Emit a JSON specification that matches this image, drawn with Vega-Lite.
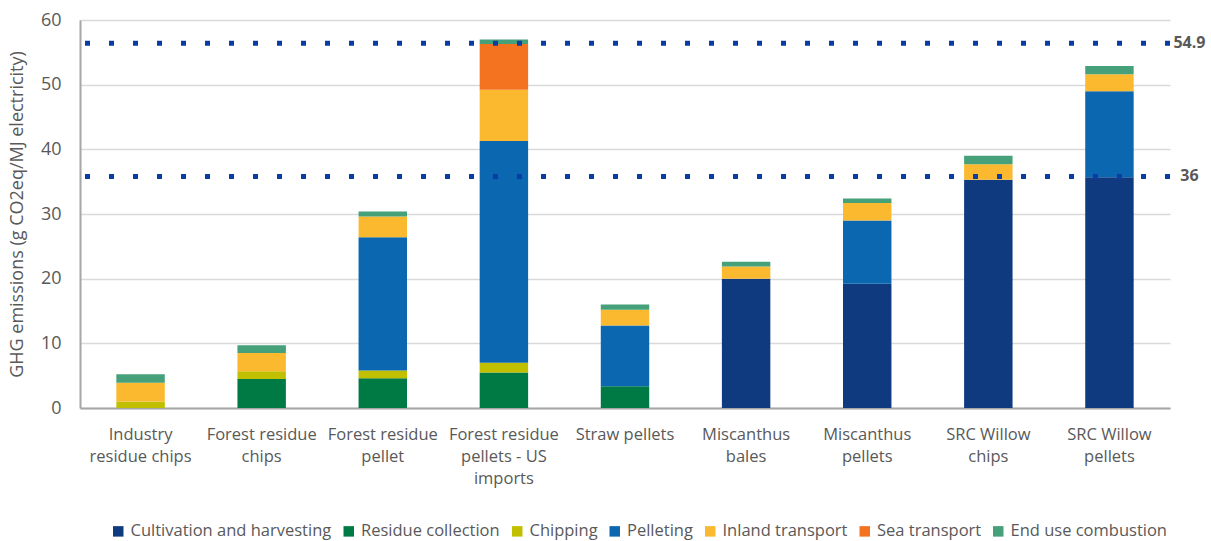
{
  "$schema": "https://vega.github.io/schema/vega-lite/v6.json",
  "width": 1090,
  "height": 388,
  "autosize": {"type": "none"},
  "padding": {"left": 80, "top": 20, "right": 41, "bottom": 133},
  "background": "white",
  "config": {
    "font": "Open Sans",
    "view": {"stroke": null},
    "axis": {"labelFont": "Open Sans", "titleFont": "Open Sans", "labelColor": "#595959", "titleColor": "#595959"}
  },
  "datasets": {
    "bars": [
      {"pathway": "Industry residue chips", "stage": "Chipping", "value": 1.0},
      {"pathway": "Industry residue chips", "stage": "Inland transport", "value": 2.9},
      {"pathway": "Industry residue chips", "stage": "End use combustion", "value": 1.3},
      {"pathway": "Forest residue chips", "stage": "Residue collection", "value": 4.5},
      {"pathway": "Forest residue chips", "stage": "Chipping", "value": 1.2},
      {"pathway": "Forest residue chips", "stage": "Inland transport", "value": 2.8},
      {"pathway": "Forest residue chips", "stage": "End use combustion", "value": 1.2},
      {"pathway": "Forest residue pellet", "stage": "Residue collection", "value": 4.6},
      {"pathway": "Forest residue pellet", "stage": "Chipping", "value": 1.2},
      {"pathway": "Forest residue pellet", "stage": "Pelleting", "value": 20.6},
      {"pathway": "Forest residue pellet", "stage": "Inland transport", "value": 3.2},
      {"pathway": "Forest residue pellet", "stage": "End use combustion", "value": 0.8},
      {"pathway": "Forest residue pellets - US imports", "stage": "Residue collection", "value": 5.5},
      {"pathway": "Forest residue pellets - US imports", "stage": "Chipping", "value": 1.5},
      {"pathway": "Forest residue pellets - US imports", "stage": "Pelleting", "value": 34.3},
      {"pathway": "Forest residue pellets - US imports", "stage": "Inland transport", "value": 7.9},
      {"pathway": "Forest residue pellets - US imports", "stage": "Sea transport", "value": 7.1},
      {"pathway": "Forest residue pellets - US imports", "stage": "End use combustion", "value": 0.7},
      {"pathway": "Straw pellets", "stage": "Residue collection", "value": 3.35},
      {"pathway": "Straw pellets", "stage": "Pelleting", "value": 9.4},
      {"pathway": "Straw pellets", "stage": "Inland transport", "value": 2.45},
      {"pathway": "Straw pellets", "stage": "End use combustion", "value": 0.8},
      {"pathway": "Miscanthus bales", "stage": "Cultivation and harvesting", "value": 20.0},
      {"pathway": "Miscanthus bales", "stage": "Inland transport", "value": 1.9},
      {"pathway": "Miscanthus bales", "stage": "End use combustion", "value": 0.7},
      {"pathway": "Miscanthus pellets", "stage": "Cultivation and harvesting", "value": 19.2},
      {"pathway": "Miscanthus pellets", "stage": "Pelleting", "value": 9.8},
      {"pathway": "Miscanthus pellets", "stage": "Inland transport", "value": 2.7},
      {"pathway": "Miscanthus pellets", "stage": "End use combustion", "value": 0.7},
      {"pathway": "SRC Willow chips", "stage": "Cultivation and harvesting", "value": 35.3},
      {"pathway": "SRC Willow chips", "stage": "Inland transport", "value": 2.4},
      {"pathway": "SRC Willow chips", "stage": "End use combustion", "value": 1.3},
      {"pathway": "SRC Willow pellets", "stage": "Cultivation and harvesting", "value": 35.7},
      {"pathway": "SRC Willow pellets", "stage": "Pelleting", "value": 13.3},
      {"pathway": "SRC Willow pellets", "stage": "Inland transport", "value": 2.6},
      {"pathway": "SRC Willow pellets", "stage": "End use combustion", "value": 1.3}
    ],
    "thresholds": [
      {"y": 56.4, "label": "54.9"},
      {"y": 35.8, "label": "36"}
    ]
  },
  "layer": [
    {
      "data": {"name": "bars"},
      "transform": [
        {"calculate": "indexof(['Cultivation and harvesting', 'Residue collection', 'Chipping', 'Pelleting', 'Inland transport', 'Sea transport', 'End use combustion'], datum.stage)", "as": "stackOrder"}
      ],
      "mark": {"type": "bar"},
      "encoding": {
        "x": {
          "field": "pathway", "type": "nominal",
          "sort": ["Industry residue chips", "Forest residue chips", "Forest residue pellet", "Forest residue pellets - US imports", "Straw pellets", "Miscanthus bales", "Miscanthus pellets", "SRC Willow chips", "SRC Willow pellets"],
          "scale": {"paddingInner": 0.6, "paddingOuter": 0.3},
          "axis": {
            "title": null, "labelAngle": 0, "ticks": false, "domain": true, "domainColor": "#a6a6a6", "domainWidth": 2,
            "labelFontSize": 16.5, "labelPadding": 18, "labelLineHeight": 22, "labelBaseline": "top",
            "labelExpr": "datum.value == 'Industry residue chips' ? ['Industry', 'residue chips'] : datum.value == 'Forest residue chips' ? ['Forest residue', 'chips'] : datum.value == 'Forest residue pellet' ? ['Forest residue', 'pellet'] : datum.value == 'Forest residue pellets - US imports' ? ['Forest residue', 'pellets - US', 'imports'] : datum.value == 'Miscanthus bales' ? ['Miscanthus', 'bales'] : datum.value == 'Miscanthus pellets' ? ['Miscanthus', 'pellets'] : datum.value == 'SRC Willow chips' ? ['SRC Willow', 'chips'] : datum.value == 'SRC Willow pellets' ? ['SRC Willow', 'pellets'] : datum.value"
          }
        },
        "y": {
          "field": "value", "type": "quantitative", "stack": "zero",
          "scale": {"domain": [0, 60], "nice": false},
          "axis": {
            "title": "GHG emissions (g CO2eq/MJ electricity)", "titleFontSize": 18, "titleFontWeight": "normal", "titlePadding": 14,
            "values": [0, 10, 20, 30, 40, 50, 60], "labelFontSize": 18, "labelPadding": 19, "ticks": false,
            "domain": true, "domainColor": "#a6a6a6", "domainWidth": 2,
            "grid": true, "gridColor": "#d9d9d9", "gridWidth": 1.5
          }
        },
        "color": {
          "field": "stage", "type": "nominal",
          "scale": {
            "domain": ["Cultivation and harvesting", "Residue collection", "Chipping", "Pelleting", "Inland transport", "Sea transport", "End use combustion"],
            "range": ["#103a7f", "#007a45", "#c0c000", "#0a67b0", "#fbb930", "#f47321", "#46a07a"]
          },
          "legend": {
            "title": null, "orient": "none", "direction": "horizontal", "columns": 7,
            "legendX": 30, "legendY": 503, "symbolType": "square", "symbolSize": 110,
            "labelFontSize": 16.5, "labelLimit": 0, "labelColor": "#595959", "columnPadding": 8.5, "labelOffset": 4
          }
        },
        "order": {"field": "stackOrder", "type": "quantitative", "sort": "ascending"}
      }
    },
    {
      "data": {"name": "thresholds"},
      "mark": {"type": "rule", "color": "#0a3ca6", "strokeWidth": 5, "strokeDash": [5, 19]},
      "encoding": {
        "y": {"field": "y", "type": "quantitative"}
      }
    },
    {
      "data": {"name": "thresholds"},
      "mark": {"type": "text", "align": "center", "baseline": "middle", "dx": 80, "fontSize": 16, "fontWeight": "bold", "color": "#595959"},
      "encoding": {
        "x": {"datum": "SRC Willow pellets", "type": "nominal"},
        "y": {"field": "y", "type": "quantitative"},
        "text": {"field": "label"}
      }
    }
  ]
}
